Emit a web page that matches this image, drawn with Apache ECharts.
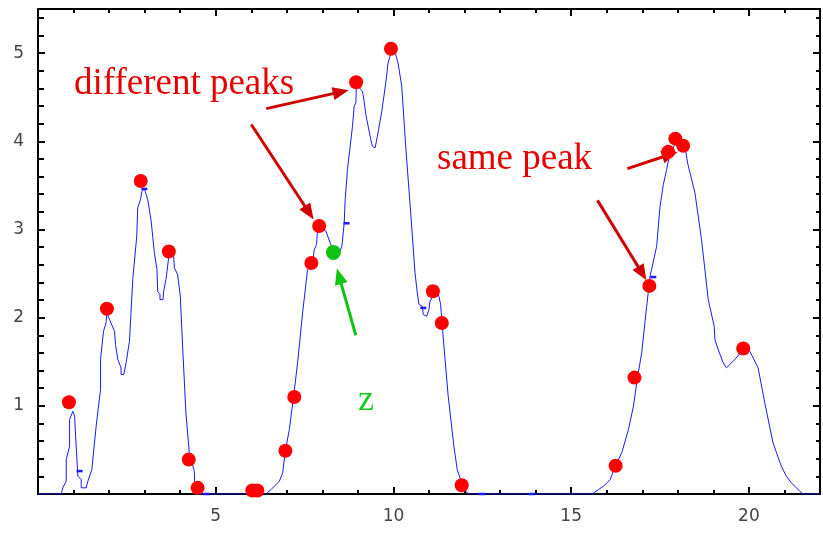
<!DOCTYPE html>
<html>
<head>
<meta charset="utf-8">
<script src="https://cdn.jsdelivr.net/npm/echarts/dist/echarts.min.js"></script>
<style>
  body { margin: 0; background: #fff; }
  #main-show { width: 823px; height: 533px; }
</style>
</head>
<body>
<div id="main-show"></div>
<script>
// spectrum trace
const curveX = [0, 0.654, 0.701, 0.794, 0.794, 0.889, 0.889, 0.982, 1.030, 1.058, 1.122, 1.215, 1.215, 1.355, 1.403, 1.515, 1.636, 1.759, 1.759, 1.843,
  1.916, 1.936, 2.012, 2.152, 2.180, 2.245, 2.337, 2.337, 2.413, 2.478, 2.573, 2.666, 2.778, 2.806, 2.882, 2.926, 2.994, 3.039, 3.086, 3.179,
  3.274, 3.347, 3.367, 3.432, 3.432, 3.516, 3.535, 3.600, 3.676, 3.740, 3.816, 3.836, 3.928, 4.004, 4.068, 4.161, 4.256, 4.397, 4.414, 4.489,
  6.417, 6.557, 6.698, 6.790, 6.883, 6.958, 7.071, 7.191, 7.304, 7.444, 7.584, 7.725, 7.772, 7.837, 7.865, 7.932, 8.100, 8.221, 8.361, 8.474,
  8.549, 8.614, 8.642, 8.706, 8.847, 8.895, 8.942, 8.959, 9.128, 9.175, 9.223, 9.363, 9.408, 9.484, 9.548, 9.672, 9.784, 9.848, 9.905, 9.941,
  10.065, 10.129, 10.233, 10.345, 10.485, 10.606, 10.671, 10.718, 10.811, 10.839, 10.934, 10.999, 11.027, 11.111, 11.167, 11.279, 11.327, 11.372, 11.420, 11.540,
  11.700, 11.793, 11.888, 12.028, 12.121,
  15.581, 15.769, 15.909, 16.097, 16.237, 16.423, 16.611, 16.751, 16.872, 16.984, 17.124, 17.220, 17.405, 17.500, 17.593, 17.685, 17.781, 17.921, 18.202, 18.274,
  18.482, 18.667, 18.855, 19.024, 19.043, 19.136, 19.276, 19.369, 19.604, 19.837, 20.025, 20.258, 20.446, 20.679, 20.912, 21.052, 21.193, 21.428, 21.521, 22];
const curveY = [0, 0, 0.074, 0.145, 0.391, 0.542, 0.845, 0.939, 0.882, 0.655, 0.202, 0.164, 0.070, 0.070, 0.145, 0.278, 0.769, 1.185, 1.525, 1.846,
  1.941, 2.054, 1.978, 1.846, 1.695, 1.525, 1.431, 1.355, 1.355, 1.488, 1.732, 2.432, 2.923, 3.245, 3.339, 3.433, 3.460, 3.460, 3.339, 3.112,
  2.735, 2.546, 2.299, 2.262, 2.205, 2.205, 2.299, 2.432, 2.678, 2.715, 2.696, 2.565, 2.489, 2.243, 1.676, 0.921, 0.467, 0.259, 0.032, 0,
  0, 0.051, 0.108, 0.145, 0.240, 0.485, 0.731, 1.109, 1.488, 2.054, 2.545, 2.621, 2.772, 2.829, 2.999, 3.036, 2.980, 2.848, 2.704, 2.727,
  2.810, 3.075, 3.339, 3.679, 4.170, 4.397, 4.435, 4.643, 4.567, 4.454, 4.303, 4.019, 3.943, 3.925, 4.057, 4.340, 4.662, 4.889, 4.964, 5.020,
  4.983, 4.889, 4.624, 3.943, 3.188, 2.508, 2.281, 2.149, 2.129, 2.035, 2.016, 2.092, 2.186, 2.243, 2.319, 2.243, 2.149, 2.129, 1.676, 1.109,
  0.542, 0.278, 0.164, 0.032, 0,
  0, 0.051, 0.088, 0.164, 0.315, 0.467, 0.731, 0.995, 1.336, 1.601, 2.129, 2.469, 2.810, 3.263, 3.509, 3.679, 3.868, 3.963, 3.943, 3.755,
  3.415, 2.885, 2.205, 1.902, 1.752, 1.638, 1.488, 1.431, 1.525, 1.638, 1.619, 1.431, 1.034, 0.580, 0.315, 0.202, 0.127, 0.032, 0, 0];

// detected peaks (red)
const peakX = [0.87, 1.94, 2.89, 3.68, 4.24, 4.49, 6.03, 6.17, 6.96, 7.21, 7.69, 7.91, 8.95, 9.93, 11.11, 11.36, 11.92, 16.25, 16.78, 17.20, 17.73, 17.93, 18.15, 19.84];
const peakY = [1.04, 2.10, 3.55, 2.75, 0.39, 0.07, 0.04, 0.04, 0.49, 1.10, 2.62, 3.04, 4.67, 5.05, 2.30, 1.94, 0.10, 0.32, 1.32, 2.36, 3.88, 4.03, 3.95, 1.65];

// point z (green)
const zX = [8.31];
const zY = [2.74];

// small blue marks on the trace
const markX = [1.17, 2.99, 8.68, 10.84, 17.31, 4.74, 12.49, 13.89];
const markY = [0.26, 3.46, 3.07, 2.11, 2.46, 0, 0, 0];

// annotation arrows [x1, y1, x2, y2]
const redArrows = [
  [6.42, 4.37, 8.52, 4.56],
  [6.00, 4.19, 7.63, 3.19],
  [16.58, 3.69, 17.78, 3.85],
  [15.74, 3.33, 17.00, 2.50]
];
const greenArrows = [[8.94, 1.80, 8.47, 2.47]];

const zip = (xs, ys) => xs.map((x, i) => [x, ys[i]]);
const arrowLines = (list) => list.map(a => [{ coord: [a[0], a[1]] }, { coord: [a[2], a[3]] }]);

const black = '#000';
const makeX = (pos, interval, len, showLine, showLabel) => ({
  type: 'value', position: pos, min: 0, max: 22, interval: interval,
  axisLine: { show: showLine, onZero: false, lineStyle: { color: black, width: 2 } },
  axisTick: { show: true, inside: true, length: len, lineStyle: { color: black, width: 2 } },
  axisLabel: {
    show: showLabel, margin: 14, color: '#444', fontSize: 17, fontFamily: 'DejaVu Sans',
    formatter: v => (v > 0 && v % 5 === 0) ? String(v) : ''
  },
  splitLine: { show: false }
});
const makeY = (pos, interval, len, showLine, showLabel) => ({
  type: 'value', position: pos, min: 0, max: 5.5, interval: interval,
  axisLine: { show: showLine, onZero: false, lineStyle: { color: black, width: 2 } },
  axisTick: { show: true, inside: true, length: len, lineStyle: { color: black, width: 2 } },
  axisLabel: {
    show: showLabel, margin: 14, color: '#444', fontSize: 17, fontFamily: 'DejaVu Sans',
    formatter: v => (v > 0 && Math.abs(v - Math.round(v)) < 1e-6) ? String(Math.round(v)) : ''
  },
  splitLine: { show: false }
});

var myChart = echarts.init(document.getElementById('main-show'));

const option = {
  animation: false,
  backgroundColor: '#fff',
  grid: { left: 38, right: 1, top: 9, bottom: 39 },
  xAxis: [
    makeX('bottom', 1, 4, true, false),
    makeX('bottom', 5, 7, false, true),
    makeX('top', 1, 4, true, false),
    makeX('top', 5, 7, false, false)
  ],
  yAxis: [
    makeY('left', 0.2, 6, true, false),
    makeY('left', 1, 7, false, true),
    makeY('right', 0.2, 4, true, false),
    makeY('right', 1, 7, false, false)
  ],
  graphic: [
    { type: 'text', x: 74, y: 84, z: 100, style: { text: 'different peaks', fill: '#e60000', font: '37px "Liberation Serif"', textVerticalAlign: 'middle' } },
    { type: 'text', x: 437, y: 159, z: 100, style: { text: 'same peak', fill: '#e60000', font: '37px "Liberation Serif"', textVerticalAlign: 'middle' } },
    { type: 'text', x: 358, y: 401, z: 100, style: { text: 'z', fill: '#1ec81e', font: '36px "Liberation Serif"', textVerticalAlign: 'middle' } }
  ],
  series: [
    {
      name: 'trace',
      type: 'line',
      data: zip(curveX, curveY),
      showSymbol: false,
      lineStyle: { color: '#1a1aff', width: 1 },
      z: 3
    },
    {
      name: 'marks',
      type: 'scatter',
      data: zip(markX, markY),
      symbol: 'rect',
      symbolSize: [6, 2.5],
      itemStyle: { color: '#1a1aff', opacity: 1 },
      z: 4
    },
    {
      name: 'peaks',
      type: 'scatter',
      data: zip(peakX, peakY),
      symbolSize: 14,
      itemStyle: { color: '#ff0000', opacity: 1 },
      z: 5,
      markLine: {
        silent: true,
        symbol: ['none', 'triangle'],
        symbolSize: [13, 16],
        label: { show: false },
        lineStyle: { color: '#d00000', width: 3, type: 'solid', opacity: 1 },
        data: arrowLines(redArrows)
      }
    },
    {
      name: 'z',
      type: 'scatter',
      data: zip(zX, zY),
      symbolSize: 15,
      itemStyle: { color: '#11c411', opacity: 1 },
      z: 5,
      markLine: {
        silent: true,
        symbol: ['none', 'triangle'],
        symbolSize: [13, 16],
        label: { show: false },
        lineStyle: { color: '#11c411', width: 3, type: 'solid', opacity: 1 },
        data: arrowLines(greenArrows)
      }
    }
  ]
};
myChart.setOption(option, true);
</script>
</body>
</html>
